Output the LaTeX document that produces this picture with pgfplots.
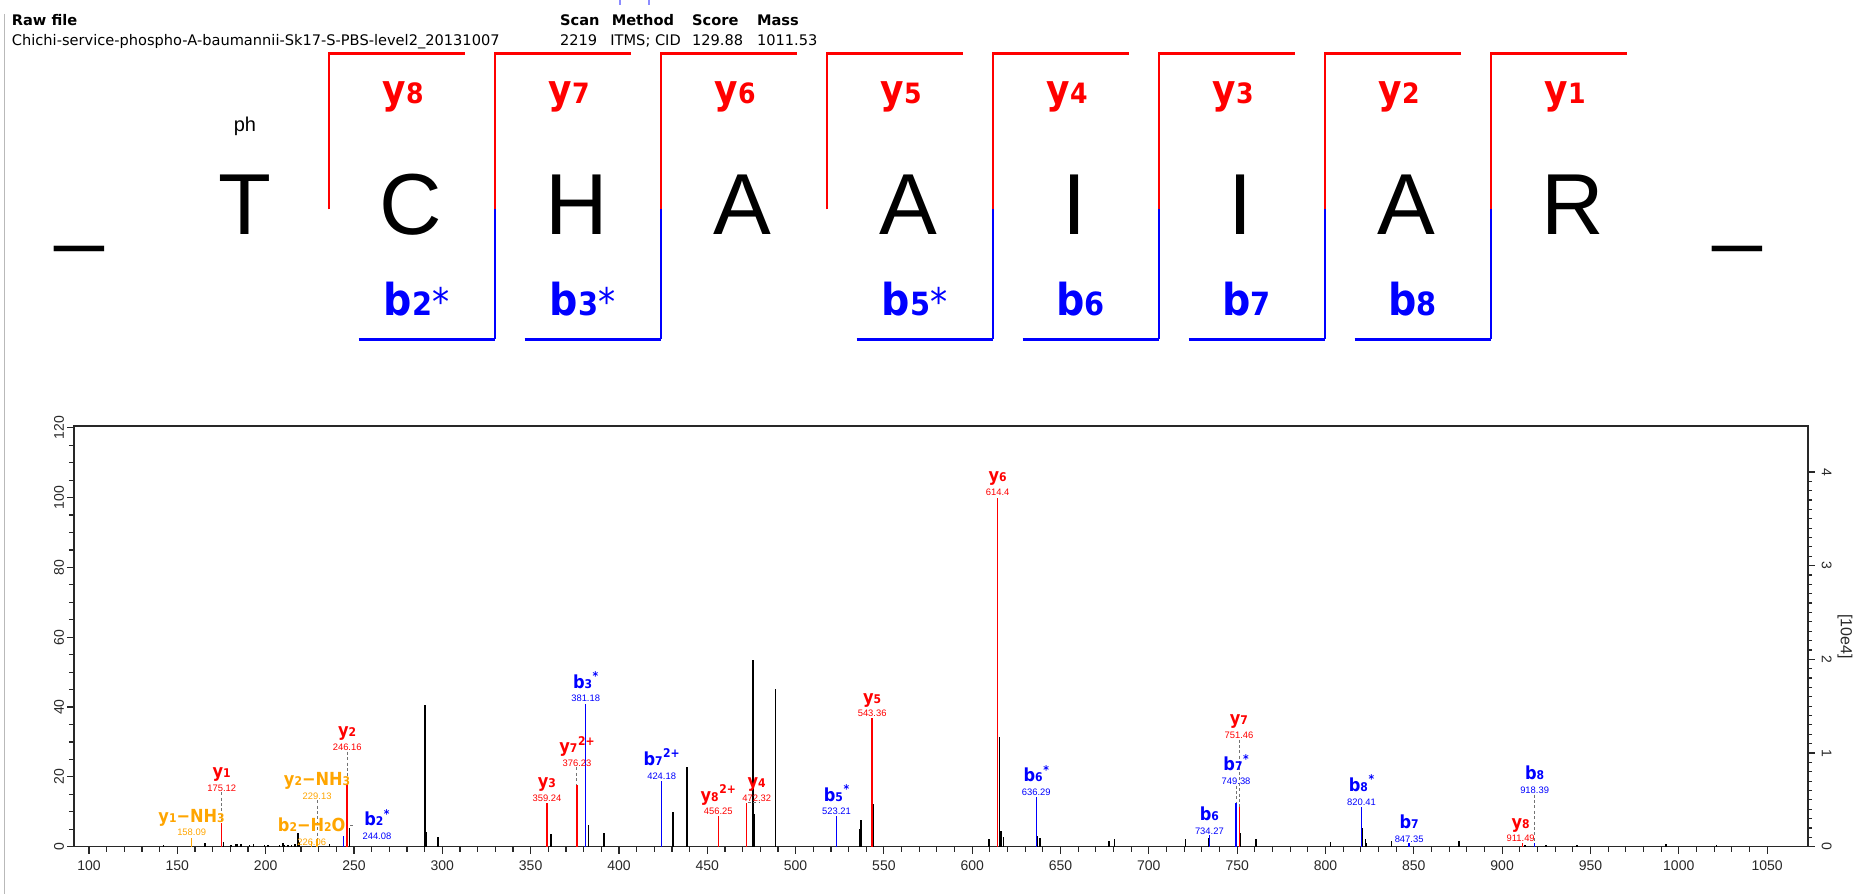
\documentclass[border=0pt]{standalone}
\usepackage{fontspec}
\setmainfont{Liberation Sans}
\newfontfamily\tah{DejaVu Sans Condensed}
\newfontfamily\verd{DejaVu Sans}
\usepackage{pgfplots}
\pgfplotsset{compat=1.18}

\definecolor{ionred}{RGB}{255,0,0}
\definecolor{ionblue}{RGB}{0,0,255}
\definecolor{ionorange}{RGB}{255,165,0}
\definecolor{axgray}{RGB}{40,40,40}

\newcommand{\sub}[1]{{\fontsize{6}{6}\selectfont #1}}
\newcommand{\sups}[1]{\kern0.3pt\raisebox{0.42em}{\fontsize{6}{6}\selectfont #1}}
% peak label: x, baseline of m/z text, colour, ion name, m/z text
\newcommand{\lbl}[5]{%
  \node[anchor=base, inner sep=0pt, text=#3, font=\fontsize{4.7}{5}\selectfont] at (axis cs:#1,#2) {#5};
  \node[anchor=base, inner sep=0pt, text=#3, font=\tah\bfseries\fontsize{9}{9}\selectfont, yshift=6.9pt] at (axis cs:#1,#2) {#4};}

\pgfplotsset{
  conn/.style={black!55, line width=0.5pt, dash pattern=on 1.5pt off 1.2pt},
  specframe/.style={
    at={(37pt,23.65pt)}, anchor=south west,
    scale only axis, width=866.85pt, height=210.35pt,
    xmin=91.5, xmax=1073,
    tick align=outside,
    axis line style={axgray, line width=0.8pt},
    every tick/.style={axgray, line width=0.6pt},
    tick label style={font=\fontsize{7}{7}\selectfont, text=axgray,
      /pgf/number format/assume math mode=true, /pgf/number format/1000 sep={}},
  },
}

\begin{document}
\begin{tikzpicture}
\path[use as bounding box] (0,0) rectangle (929pt,447pt);

% ---- spectrum ----
\begin{axis}[
    specframe,
    ymin=0, ymax=120.5,
    xtick={100,150,...,1050}, minor x tick num=4,
    ytick={0,20,...,120}, minor y tick num=3,
    tick pos=left,
    major tick length=3.5pt, minor tick length=2.6pt,
    yticklabel style={xshift=2pt, rotate=90, anchor=south},
    clip=false,
]
\addplot[ycomb, black, line width=0.7pt] coordinates {
  (142,0.5) (165.6,1.0) (176.0,1.3) (180.4,0.6) (183.2,0.9) (183.8,0.7)
  (186.0,0.7) (191.0,0.6) (193.0,0.9) (199.4,0.6) (201.3,0.5) (208.0,0.5)
  (209.8,1.2) (210.8,0.6) (212.7,0.6) (214.6,0.6) (216.5,0.8) (218.4,3.8)
  (219.3,1.3) (236.0,0.7) (247.3,5.3) (290.1,40.7) (290.8,4.3) (297.5,2.9)
  (361.5,3.5) (382.8,6.1) (391.5,3.8) (430.5,9.9) (438.5,22.7) (475.8,53.4)
  (476.5,9.5) (488.5,45.2) (536.3,5.0) (537.0,7.6) (544.0,12.2) (609.5,2.1)
  (615.5,31.5) (616.3,4.5) (617.8,2.8) (636.8,3.1) (638.3,2.4) (677.4,1.7)
  (680.4,2.1) (720.8,2.1) (734.1,2.4) (749.7,6.5) (751.9,3.8) (760.6,2.1)
  (802.7,1.3) (820.6,5.3) (822.5,2.1) (823.0,1.1) (837.2,1.7) (875.5,1.7)
  (913.0,0.5) (924.9,0.5) (942.4,0.6) (992.7,0.7) (1021.5,0.6)
};
\addplot[ycomb, ionorange, line width=0.7pt] coordinates {
  (158.09,2.6) (226.06,1.5) (229.13,2.3)
};
\addplot[ycomb, ionblue, line width=0.7pt] coordinates {
  (244.08,3.0) (381.18,41.0) (424.18,18.8) (523.21,8.8) (636.29,14.3)
  (734.27,3.3) (749.38,12.4) (820.41,11.4) (847.35,1.0) (918.39,1.2)
};
\addplot[ycomb, ionred, line width=0.7pt] coordinates {
  (175.12,6.7) (246.16,18.1) (359.24,12.6) (376.23,17.8) (456.25,8.8)
  (472.32,12.4) (543.36,37.0) (614.4,100) (751.46,11.3) (911.49,1.0)
};

% dashed connectors from labels to peaks
\addplot[conn] coordinates {(175.12,15.6) (175.12,6.7)};
\addplot[conn] coordinates {(229.13,13.3) (229.13,2.3)};
\addplot[conn] coordinates {(246.16,27.2) (246.16,18.1)};
\addplot[conn] coordinates {(376.23,22.7) (376.23,17.8)};
\addplot[conn] coordinates {(473.0,12.6) (479.5,12.6)};
\addplot[conn] coordinates {(751.46,30.7) (751.46,11.3)};
\addplot[conn] coordinates {(749.38,17.5) (749.38,12.4)};
\addplot[conn] coordinates {(918.39,14.9) (918.39,1.2)};
\addplot[conn] coordinates {(247.8,6.2) (250.2,6.2)};

\lbl{158.09}{3.1}{ionorange}{y\sub{1}−NH\sub{3}}{158.09}
\lbl{175.12}{15.9}{ionred}{y\sub{1}}{175.12}
\lbl{229.13}{13.6}{ionorange}{y\sub{2}−NH\sub{3}}{229.13}
\lbl{226.06}{0.4}{ionorange}{b\sub{2}−H\sub{2}O}{226.06}
\lbl{263.0}{2.1}{ionblue}{b\sub{2}\sups{*}}{244.08}
\lbl{246.16}{27.5}{ionred}{y\sub{2}}{246.16}
\lbl{359.24}{12.9}{ionred}{y\sub{3}}{359.24}
\lbl{376.23}{23.0}{ionred}{y\sub{7}\sups{2+}}{376.23}
\lbl{381.18}{41.5}{ionblue}{b\sub{3}\sups{*}}{381.18}
\lbl{424.18}{19.3}{ionblue}{b\sub{7}\sups{2+}}{424.18}
\lbl{456.25}{9.1}{ionred}{y\sub{8}\sups{2+}}{456.25}
\lbl{478.0}{12.9}{ionred}{y\sub{4}}{472.32}
\lbl{523.21}{9.1}{ionblue}{b\sub{5}\sups{*}}{523.21}
\lbl{543.36}{37.2}{ionred}{y\sub{5}}{543.36}
\lbl{614.4}{100.6}{ionred}{y\sub{6}}{614.4}
\lbl{636.29}{14.7}{ionblue}{b\sub{6}\sups{*}}{636.29}
\lbl{734.27}{3.6}{ionblue}{b\sub{6}}{734.27}
\lbl{751.0}{31.0}{ionred}{y\sub{7}}{751.46}
\lbl{749.38}{17.8}{ionblue}{b\sub{7}\sups{*}}{749.38}
\lbl{820.41}{11.9}{ionblue}{b\sub{8}\sups{*}}{820.41}
\lbl{847.35}{1.3}{ionblue}{b\sub{7}}{847.35}
\lbl{918.39}{15.2}{ionblue}{b\sub{8}}{918.39}
\lbl{910.5}{1.4}{ionred}{y\sub{8}}{911.49}
\end{axis}

% right intensity scale
\begin{axis}[
    specframe,
    ymin=0, ymax=4.49,
    axis x line=none, axis y line*=right,
    ytick={0,1,...,4}, minor y tick num=9,
    major tick length=3.5pt, minor tick length=2.2pt,
    yticklabel style={rotate=-90, anchor=south},
    ylabel={[10e4]},
    ylabel style={at={(axis description cs:1.0215,0.5)}, anchor=center,
      rotate=180, font=\fontsize{8}{8}\selectfont, text=axgray},
]
\addplot[draw=none] coordinates {(100,0)};
\end{axis}

% ---- header and sequence map, in image pixels ----
\begin{scope}[x=0.5pt, y=-0.5pt, yshift=447pt]
\draw[gray!55, line width=0.5pt] (4,14) -- (4,894);
\draw[blue!45, line width=0.6pt] (620,0) -- (620,5) (649,0) -- (649,5);

\begin{scope}[every node/.style={anchor=base west, inner sep=0pt}]
\node[font=\verd\bfseries\fontsize{7.3}{7}\selectfont] at (11.5,26) {Raw file};
\node[font=\verd\fontsize{7.3}{7}\selectfont] at (11.5,46) {Chichi-service-phospho-A-baumannii-Sk17-S-PBS-level2\_20131007};
\node[font=\verd\bfseries\fontsize{7.3}{7}\selectfont] at (559.7,26) {Scan};
\node[font=\verd\fontsize{7.3}{7}\selectfont] at (559.7,46) {2219};
\node[font=\verd\bfseries\fontsize{7.3}{7}\selectfont] at (611.4,26) {Method};
\node[font=\verd\fontsize{7.3}{7}\selectfont] at (610,46) {ITMS; CID};
\node[font=\verd\bfseries\fontsize{7.3}{7}\selectfont] at (691.7,26) {Score};
\node[font=\verd\fontsize{7.3}{7}\selectfont] at (691.7,46) {129.88};
\node[font=\verd\bfseries\fontsize{7.3}{7}\selectfont] at (756.6,26) {Mass};
\node[font=\verd\fontsize{7.3}{7}\selectfont] at (756.6,46) {1011.53};
\end{scope}

% y ions (red, above)
\foreach \k in {1,...,8} {
  \pgfmathsetmacro\xv{162.7+166*\k}
  \pgfmathtruncatemacro\yn{9-\k}
  \draw[ionred, line width=1pt] (\xv,209.5) -- (\xv,53.3);
  \draw[ionred, line width=1.35pt] (\xv-0.5,53.3) -- (\xv+136,53.3);
  \node[anchor=base, inner sep=0pt, text=ionred, font=\tah\bfseries] at (\xv+74.5,103.3)
    {\fontsize{20}{20}\selectfont y\fontsize{14}{14}\selectfont\yn};
}
% b ions (blue, below)
\foreach \k/\s in {2/*,3/*,5/*,6/,7/,8/} {
  \pgfmathsetmacro\xv{162.7+166*\k}
  \draw[ionblue, line width=1pt] (\xv,209.5) -- (\xv,339.5);
  \draw[ionblue, line width=1.35pt] (\xv-136,339.5) -- (\xv+0.5,339.5);
  \node[anchor=base, inner sep=0pt, text=ionblue, font=\tah\bfseries] at (\xv-78,316)
    {\fontsize{22}{22}\selectfont b\fontsize{16}{16}\selectfont\k{\mdseries\fontsize{19}{19}\selectfont\s}};
}
% residues
\foreach \L [count=\i from 0] in {T,C,H,A,A,I,I,A,R}
  \node[anchor=base, inner sep=0pt, font=\fontsize{43.3}{44}\selectfont] at (244.7+166*\i,235) {\L};
\node[anchor=base, inner sep=0pt, font=\fontsize{43.3}{44}\selectfont] at (80,235) {\_};
\node[anchor=base, inner sep=0pt, font=\fontsize{43.3}{44}\selectfont] at (1738,235) {\_};
\node[inner sep=0pt, font=\fontsize{10}{10}\selectfont] at (245,126.7) {ph};
\end{scope}
\end{tikzpicture}
\end{document}
